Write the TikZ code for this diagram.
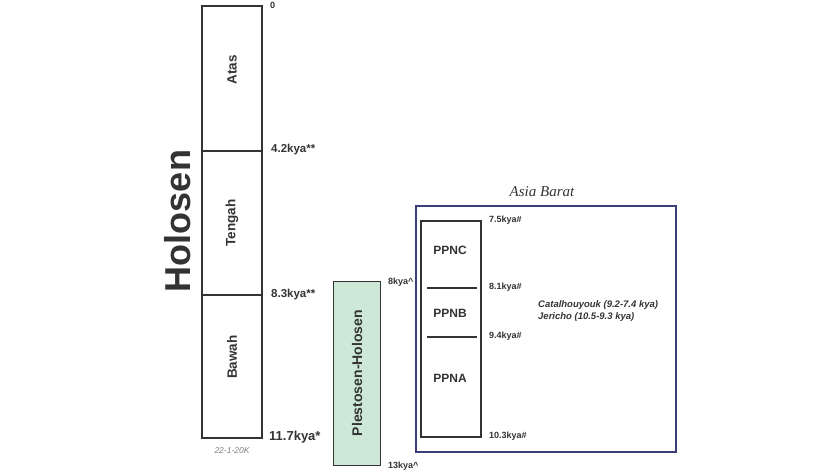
\documentclass[tikz,border=0pt]{standalone}
\usepackage{fontspec}
\setmainfont{Liberation Sans}
\newfontfamily\serifit{Liberation Serif}
\definecolor{ink}{HTML}{333333}
\definecolor{pgreen}{HTML}{CDE8D6}
\definecolor{pblue}{HTML}{3A3F7A}
\begin{document}
\begin{tikzpicture}[x=1pt,y=-1pt,
  col/.style={draw=ink,line width=2.6pt},
  lab/.style={text=ink,font=\bfseries\fontsize{11.5}{12}\selectfont,anchor=west,inner sep=0pt},
  slab/.style={text=ink,font=\bfseries\fontsize{9}{10}\selectfont,anchor=west,inner sep=0pt},
  tname/.style={text=ink,font=\bfseries\fontsize{12}{14}\selectfont,inner sep=0pt}]
\useasboundingbox (0,0) rectangle (840,472);
% Holosen column
\draw[col] (202,6) rectangle (262,438);
\draw[col] (202,151) -- (262,151);
\draw[col] (202,295) -- (262,295);
\node[tname,font=\bfseries\fontsize{13.5}{14}\selectfont,rotate=90] (atas) at (232,70) {Atas};
\node[tname,font=\bfseries\fontsize{13.5}{14}\selectfont,rotate=90] (tengah) at (232,223) {Tengah};
\node[tname,font=\bfseries\fontsize{13.5}{14}\selectfont,rotate=90] (bawah) at (232,357) {Bawah};
\node[text=ink,font=\bfseries\fontsize{36}{38}\selectfont,rotate=90,inner sep=0pt] (hol) at (178,221) {Holosen};
\node[lab,font=\bfseries\fontsize{9}{10}\selectfont] (t0) at (270,5) {0};
\node[lab] (t42) at (271,150) {4.2kya**};
\node[lab] (t83) at (271,295) {8.3kya**};
\node[lab,font=\bfseries\fontsize{13}{14}\selectfont] (t117) at (269,437) {11.7kya*};
\node[text=gray,font=\itshape\fontsize{8.5}{9}\selectfont] (k) at (232,451) {22-1-20K};
% Plestosen-Holosen
\draw[draw=ink,fill=pgreen,line width=1pt] (333,281) rectangle (380,465);
\node[tname,font=\bfseries\fontsize{14}{16}\selectfont,rotate=90] (ph) at (357,373) {Plestosen-Holosen};
\node[slab] (t8) at (388,282) {8kya\^{}};
\node[slab] (t13) at (388,466) {13kya\^{}};
% Asia Barat
\draw[draw=pblue,line width=1.2pt] (416,206) rectangle (676,452);
\node[text=ink,font=\serifit\itshape\fontsize{15}{16}\selectfont] (ab) at (542,192) {Asia Barat};
\draw[col] (421,221) rectangle (481,437);
\draw[col,line width=1.5pt] (427,288) -- (477,288);
\draw[col,line width=1.5pt] (427,337) -- (477,337);
\node[tname] (c) at (450,250) {PPNC};
\node[tname] (b) at (450,313) {PPNB};
\node[tname] (a) at (450,378) {PPNA};
\node[slab] (p75) at (489,220) {7.5kya\#};
\node[slab] (p81) at (489,287) {8.1kya\#};
\node[slab] (p94) at (489,336) {9.4kya\#};
\node[slab] (p103) at (489,436) {10.3kya\#};
\node[text=ink,font=\bfseries\itshape\fontsize{9.5}{12}\selectfont,anchor=west,align=left,inner sep=0pt] (sites) at (538,311) {Catalhouyouk (9.2-7.4 kya)\\Jericho (10.5-9.3 kya)};
\end{tikzpicture}
\end{document}
